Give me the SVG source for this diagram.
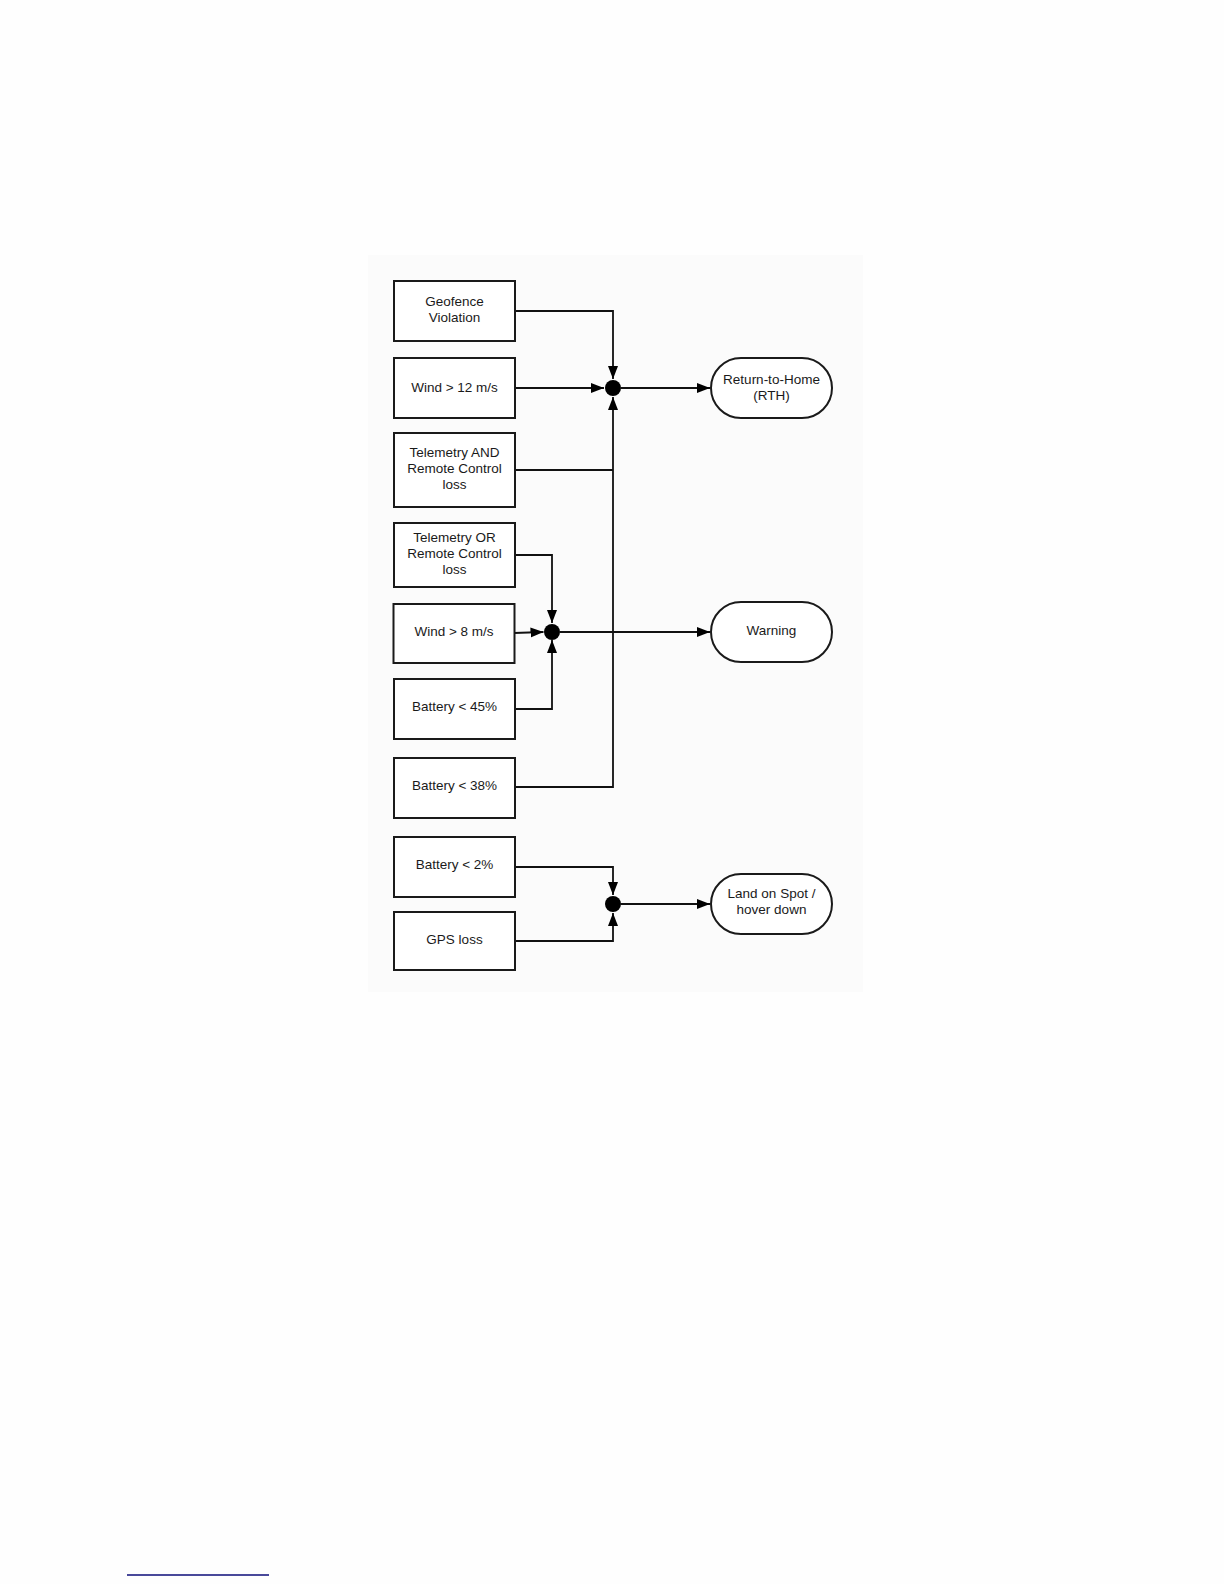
<svg xmlns="http://www.w3.org/2000/svg" width="1224" height="1584" viewBox="0 0 1224 1584">
<style>
.box{fill:#ffffff;stroke:#1a1a1a;stroke-width:2}
.term{fill:#ffffff;stroke:#1a1a1a;stroke-width:2}
.lbl{font-family:"Liberation Sans",Arial,sans-serif;font-size:13.5px;fill:#1a1a1a;text-anchor:middle}
.con{fill:none;stroke:#111;stroke-width:1.8}
.dot{fill:#000}
</style>
<defs>
<marker id="arr" markerUnits="userSpaceOnUse" markerWidth="14" markerHeight="11" refX="13" refY="5" orient="auto">
<path d="M0,0 L13,5 L0,10 z" fill="#000"/>
</marker>
</defs>
<rect width="1224" height="1584" fill="#fefefe"/>
<rect x="368" y="255" width="495" height="737" fill="#fbfbfb"/>

<g id="connectors">
<path class="con" d="M515,311 H613 V379" marker-end="url(#arr)"/>
<path class="con" d="M515,388 H604" marker-end="url(#arr)"/>
<path class="con" d="M515,470 H613"/>
<path class="con" d="M515,787 H613 V397" marker-end="url(#arr)"/>
<path class="con" d="M621,388 H710" marker-end="url(#arr)"/>
<path class="con" d="M515,555 H552 V623" marker-end="url(#arr)"/>
<path class="con" d="M514,633 L543.5,632" marker-end="url(#arr)"/>
<path class="con" d="M515,709 H552 V640" marker-end="url(#arr)"/>
<path class="con" d="M560,632 H710" marker-end="url(#arr)"/>
<path class="con" d="M515,867 H613 V895" marker-end="url(#arr)"/>
<path class="con" d="M515,941 H613 V913" marker-end="url(#arr)"/>
<path class="con" d="M621,904 H710" marker-end="url(#arr)"/>
</g>

<g id="junction-rth"><circle class="dot" cx="613" cy="388" r="8"/></g>
<g id="junction-warning"><circle class="dot" cx="552" cy="632" r="8"/></g>
<g id="junction-land"><circle class="dot" cx="613" cy="904" r="8"/></g>

<g id="geofence">
<rect class="box" x="394" y="281" width="121" height="60"/>
<text class="lbl" x="454.5" y="306">Geofence</text>
<text class="lbl" x="454.5" y="322">Violation</text>
</g>
<g id="wind12">
<rect class="box" x="394" y="358" width="121" height="60"/>
<text class="lbl" x="454.5" y="392">Wind &gt; 12 m/s</text>
</g>
<g id="telemetry-and">
<rect class="box" x="394" y="433" width="121" height="74"/>
<text class="lbl" x="454.5" y="457">Telemetry AND</text>
<text class="lbl" x="454.5" y="473">Remote Control</text>
<text class="lbl" x="454.5" y="489">loss</text>
</g>
<g id="telemetry-or">
<rect class="box" x="394" y="523" width="121" height="64"/>
<text class="lbl" x="454.5" y="542">Telemetry OR</text>
<text class="lbl" x="454.5" y="558">Remote Control</text>
<text class="lbl" x="454.5" y="574">loss</text>
</g>
<g id="wind8">
<rect class="box" x="393.5" y="604" width="121" height="59"/>
<text class="lbl" x="454" y="636">Wind &gt; 8 m/s</text>
</g>
<g id="battery45">
<rect class="box" x="394" y="679" width="121" height="60"/>
<text class="lbl" x="454.5" y="711">Battery &lt; 45%</text>
</g>
<g id="battery38">
<rect class="box" x="394" y="758" width="121" height="60"/>
<text class="lbl" x="454.5" y="790">Battery &lt; 38%</text>
</g>
<g id="battery2">
<rect class="box" x="394" y="837" width="121" height="60"/>
<text class="lbl" x="454.5" y="869">Battery &lt; 2%</text>
</g>
<g id="gps-loss">
<rect class="box" x="394" y="912" width="121" height="58"/>
<text class="lbl" x="454.5" y="944">GPS loss</text>
</g>

<g id="rth">
<rect class="term" x="711" y="358" width="121" height="60" rx="30" ry="30"/>
<text class="lbl" x="771.5" y="384">Return-to-Home</text>
<text class="lbl" x="771.5" y="400">(RTH)</text>
</g>
<g id="warning">
<rect class="term" x="711" y="602" width="121" height="60" rx="30" ry="30"/>
<text class="lbl" x="771.5" y="635">Warning</text>
</g>
<g id="land">
<rect class="term" x="711" y="874" width="121" height="60" rx="30" ry="30"/>
<text class="lbl" x="771.5" y="898">Land on Spot /</text>
<text class="lbl" x="771.5" y="914">hover down</text>
</g>

<line x1="127" y1="1575" x2="269" y2="1575" stroke="#0c0c78" stroke-width="1.6"/>
</svg>
